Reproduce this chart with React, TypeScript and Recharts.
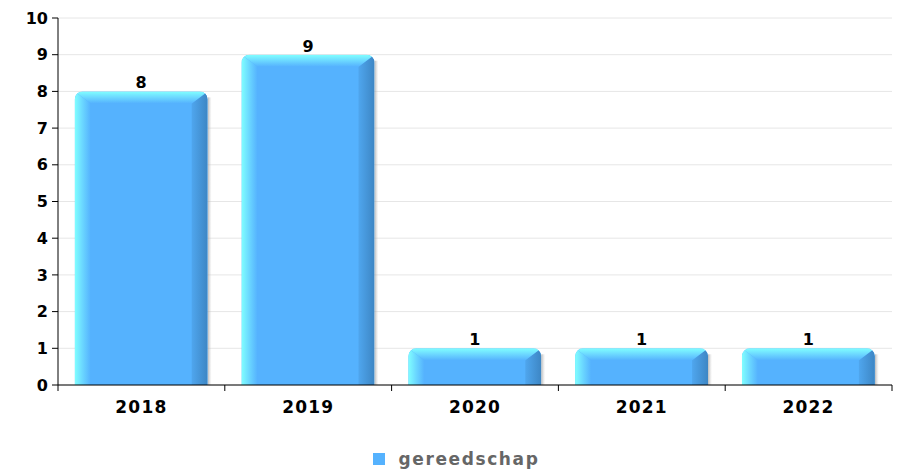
import React from "react";
import { BarChart, Bar, XAxis, YAxis, CartesianGrid, Legend, LabelList } from "recharts";

const years = ["2018", "2019", "2020", "2021", "2022"];
const gereedschap = [8, 9, 1, 1, 1];
const yTicks = [0, 1, 2, 3, 4, 5, 6, 7, 8, 9, 10];
const boundaryTicks = [0, 1, 2, 3, 4, 5];
const seriesName = "gereedschap";

const data = years.map((y, i) => ({ year: y, value: gereedschap[i], pos: i + 0.5 }));

const FONT = "'DejaVu Sans', sans-serif";

const BevelBar = (props: any) => {
  const { x, y, width: w, height: h, index } = props;
  if (!h || h <= 0) return null;
  const bx = 16;
  const by = Math.min(12, h / 3);
  const id = `bb${index}`;
  return (
    <g>
      <defs>
        <linearGradient id={`${id}l`} x1="0" y1="0" x2="1" y2="0">
          <stop offset="0" stopColor="#80ffff" />
          <stop offset="0.5" stopColor="#6ad6ff" />
          <stop offset="1" stopColor="#55b2fe" />
        </linearGradient>
        <linearGradient id={`${id}r`} x1="0" y1="0" x2="1" y2="0">
          <stop offset="0" stopColor="#4fa6ee" />
          <stop offset="1" stopColor="#3d86c4" />
        </linearGradient>
        <linearGradient id={`${id}t`} x1="0" y1="0" x2="0" y2="1">
          <stop offset="0" stopColor="#80ffff" />
          <stop offset="0.5" stopColor="#6cd8ff" />
          <stop offset="1" stopColor="#55b2fe" />
        </linearGradient>
        <linearGradient id={`${id}s`} x1="0" y1="0" x2="1" y2="0">
          <stop offset="0" stopColor="#999" stopOpacity="0.7" />
          <stop offset="1" stopColor="#ccc" stopOpacity="0" />
        </linearGradient>
        <clipPath id={`${id}c`}>
          <rect x={x} y={y} width={w} height={h + 2} rx={8} ry={8} />
          <rect x={x} y={y + 10} width={w} height={Math.max(0, h - 10)} />
        </clipPath>
      </defs>
      <rect x={x + w} y={y + 6} width={4} height={h - 6} fill={`url(#${id}s)`} />
      <g clipPath={`url(#${id}c)`}>
        <rect x={x} y={y} width={w} height={h} fill="#55b2fe" />
        <polygon
          points={`${x},${y} ${x + bx},${y + by} ${x + bx},${y + h} ${x},${y + h}`}
          fill={`url(#${id}l)`}
        />
        <polygon
          points={`${x + w},${y} ${x + w},${y + h} ${x + w - bx},${y + h} ${x + w - bx},${y + by}`}
          fill={`url(#${id}r)`}
        />
        <polygon
          points={`${x},${y} ${x + w},${y} ${x + w - bx},${y + by} ${x + bx},${y + by}`}
          fill={`url(#${id}t)`}
        />
      </g>
    </g>
  );
};

const EmptyTick = () => <g />;

const LegendContent = () => (
  <div
    style={{
      height: 30,
      display: "flex",
      justifyContent: "center",
      alignItems: "center",
      paddingTop: 6,
      boxSizing: "border-box",
      fontFamily: FONT,
      fontWeight: "bold",
      fontSize: 17,
      color: "#666",
    }}
  >
    <span
      style={{ display: "inline-block", width: 12, height: 12, background: "#55b2fe", marginRight: 14, marginLeft: 20 }}
    />
    <span style={{ letterSpacing: 1.6 }}>{seriesName}</span>
  </div>
);

export default function App() {
  return (
    <div style={{ position: "absolute", left: 0, top: 0, width: 901, height: 471, background: "#fff" }}>
      <BarChart
        width={901}
        height={471}
        data={data}
        margin={{ top: 18, right: 9, bottom: 0, left: 0 }}
        barCategoryGap="10%"
      >
        <CartesianGrid vertical={false} stroke="#e6e6e6" />
        <XAxis
          xAxisId="b"
          type="number"
          dataKey="pos"
          domain={[0, 5]}
          ticks={boundaryTicks}
          interval={0}
          height={6}
          axisLine={{ stroke: "#000" }}
          tickLine={{ stroke: "#000" }}
          tickSize={6}
          tick={<EmptyTick />}
        />
        <XAxis
          dataKey="year"
          xAxisId="cat"
          height={50}
          axisLine={false}
          tickLine={false}
          tick={{ fill: "#000", fontFamily: FONT, fontWeight: "bold", fontSize: 17, letterSpacing: 1.2 }}
          tickMargin={4}
        />
        <YAxis
          width={58}
          domain={[0, 10]}
          ticks={yTicks}
          interval={0}
          axisLine={{ stroke: "#000" }}
          tickLine={{ stroke: "#000" }}
          tickSize={6}
          tickMargin={4}
          tick={{ fill: "#000", fontFamily: FONT, fontWeight: "bold", fontSize: 16 }}
        />
        <Legend verticalAlign="bottom" height={30} content={<LegendContent />} />
        <Bar
          dataKey="value"
          xAxisId="cat"
          name={seriesName}
          fill="#55b2fe"
          shape={<BevelBar />}
          isAnimationActive={false}
        >
          <LabelList
            dataKey="value"
            position="top"
            offset={3}
            fill="#000"
            fontFamily={FONT}
            fontWeight="bold"
            fontSize={16}
          />
        </Bar>
      </BarChart>
    </div>
  );
}
